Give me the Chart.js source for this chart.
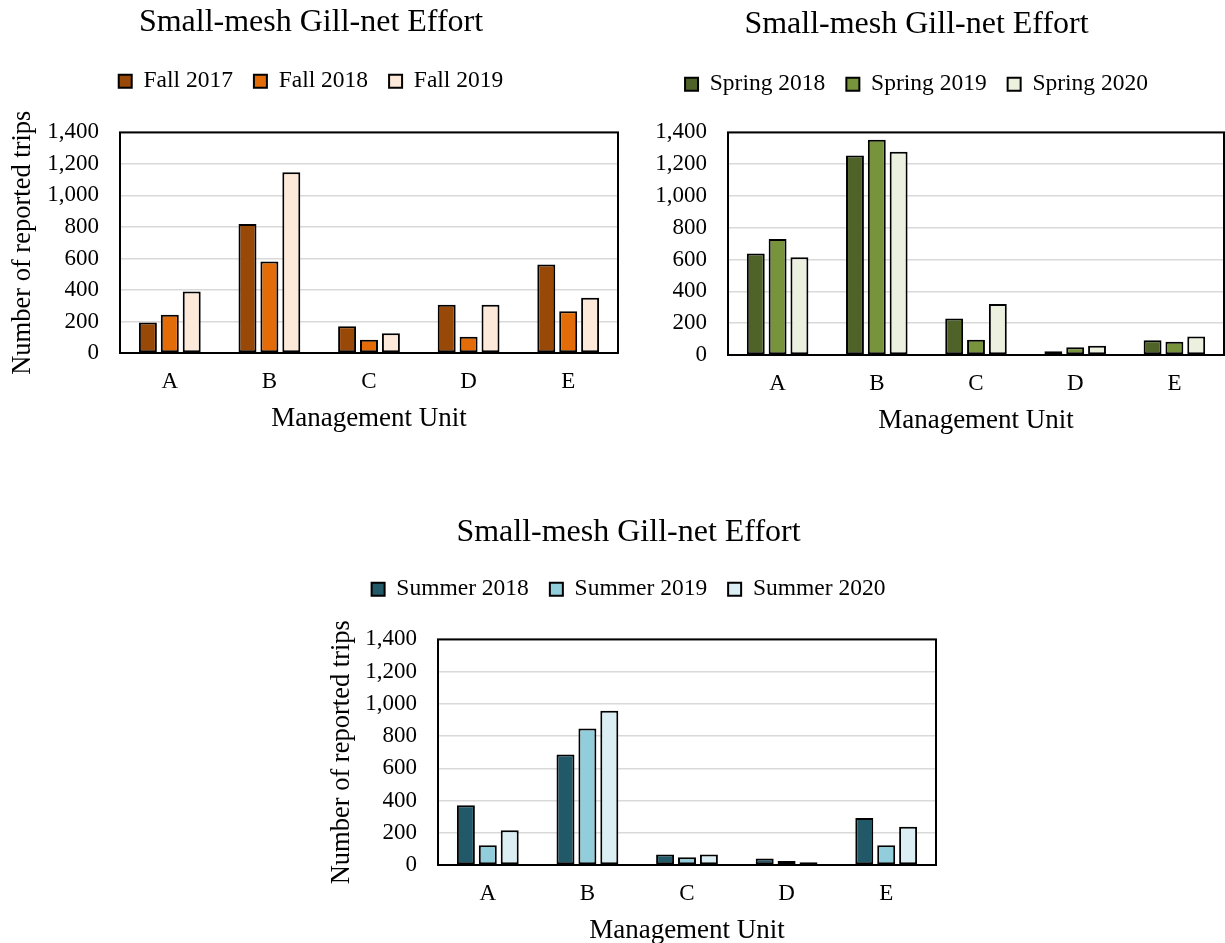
<!DOCTYPE html>
<html>
<head>
<meta charset="utf-8">
<script src="https://cdn.jsdelivr.net/npm/chart.js@4.4.1/dist/chart.umd.min.js"></script>
<style>
  body { margin: 0; background: #fff; width: 1225px; height: 943px; position: relative; overflow: hidden; }
  .box { position: absolute; }
</style>
</head>
<body>
<div class="box" style="left:0;top:0;width:622px;height:439px"><canvas id="fall"></canvas></div>
<div class="box" style="left:608px;top:0;width:617px;height:441px"><canvas id="spring"></canvas></div>
<div class="box" style="left:320px;top:507px;width:617px;height:444px"><canvas id="summer"></canvas></div>
<script>
const units = ['A', 'B', 'C', 'D', 'E'];
const yTicks = [0, 200, 400, 600, 800, 1000, 1200, 1400];

const fall2017 = [193, 818, 169, 306, 561];
const fall2018 = [242, 580, 84, 103, 265];
const fall2019 = [390, 1147, 126, 306, 351];

const spring2018 = [639, 1255, 230, 23, 92];
const spring2019 = [729, 1353, 96, 49, 83];
const spring2020 = [614, 1279, 320, 58, 117];

const summer2018 = [371, 685, 65, 40, 291];
const summer2019 = [122, 847, 48, 25, 122];
const summer2020 = [216, 958, 65, 17, 237];

const serif = '"Liberation Serif", "Times New Roman", serif';
Chart.defaults.font.family = serif;
Chart.defaults.color = '#000';

// black frame round the plot area
const frame = {
    id: 'frame',
    afterDraw(chart) {
        const a = chart.chartArea, ctx = chart.ctx;
        ctx.save();
        ctx.strokeStyle = '#000';
        ctx.lineWidth = 2;
        ctx.strokeRect(a.left, a.top, a.right - a.left, a.bottom - a.top);
        ctx.restore();
    }
};

// fixed legend height so the gap above the plot matches
const legendHeight = {
    id: 'legendHeight',
    beforeInit(chart, args, opts) {
        const fit = chart.legend.fit;
        chart.legend.fit = function () {
            fit.call(this);
            this.height = opts.height;
        };
    }
};

function makeChart(id, names, series, colors, cfg) {
    const ctx = document.getElementById(id).getContext('2d');
    new Chart(ctx, {
        type: 'bar',
        data: {
            labels: units,
            datasets: series.map((s, i) => ({
                label: names[i],
                data: s,
                backgroundColor: colors[i],
                borderColor: '#000',
                borderWidth: 2,
                borderSkipped: false,
                categoryPercentage: 0.66,
                barPercentage: 0.82
            }))
        },
        options: {
            responsive: true,
            maintainAspectRatio: false,
            animation: false,
            layout: { padding: 0 },
            plugins: {
                title: {
                    display: true,
                    text: 'Small-mesh Gill-net Effort',
                    font: { size: 32, weight: 'normal' },
                    padding: { top: cfg.titleTop, bottom: cfg.titleGap }
                },
                legend: {
                    labels: {
                        font: { size: 23.5 },
                        boxWidth: 13,
                        boxHeight: 13,
                        padding: 21,
                        color: '#000'
                    }
                },
                legendHeight: { height: cfg.legendH },
                tooltip: { enabled: false }
            },
            scales: {
                x: {
                    grid: { display: false },
                    border: { display: false },
                    ticks: { font: { size: 23 }, padding: 7 },
                    title: { display: true, text: 'Management Unit', font: { size: 27 }, padding: { top: 0, bottom: 4 } }
                },
                y: {
                    min: 0,
                    max: 1400,
                    afterBuildTicks: axis => { axis.ticks = yTicks.map(v => ({ value: v })); },
                    afterFit: axis => { axis.width = cfg.leftW; },
                    grid: { color: '#d9d9d9', lineWidth: 1.5, drawTicks: false },
                    border: { display: false },
                    ticks: {
                        font: { size: 23 },
                        padding: 21,
                        callback: v => v.toLocaleString('en-US')
                    },
                    title: {
                        display: cfg.yTitle,
                        text: 'Number of reported trips',
                        font: { size: 26.5 },
                        padding: { top: cfg.yTitlePad, bottom: 0 }
                    }
                },
                // empty right-hand axis sets the room right of the plot
                y2: {
                    position: 'right',
                    min: 0,
                    max: 1400,
                    afterFit: axis => { axis.width = cfg.rightW; },
                    grid: { display: false },
                    border: { display: false },
                    ticks: { display: false }
                }
            }
        },
        plugins: [frame, legendHeight]
    });
}

makeChart('fall', ['Fall 2017', 'Fall 2018', 'Fall 2019'],
    [fall2017, fall2018, fall2019], ['#984807', '#E36C09', '#FDE9D9'],
    { yTitle: true, yTitlePad: 7, leftW: 120, rightW: 4, titleTop: 3, titleGap: 7, legendH: 84 });
makeChart('spring', ['Spring 2018', 'Spring 2019', 'Spring 2020'],
    [spring2018, spring2019, spring2020], ['#4F6228', '#77933C', '#EBF1DE'],
    { yTitle: false, yTitlePad: 0, leftW: 120, rightW: 1, titleTop: 5, titleGap: 8, legendH: 81 });
makeChart('summer', ['Summer 2018', 'Summer 2019', 'Summer 2020'],
    [summer2018, summer2019, summer2020], ['#215968', '#92CDDC', '#DAEEF3'],
    { yTitle: true, yTitlePad: 6, leftW: 118, rightW: 1, titleTop: 6, titleGap: 5, legendH: 83 });
</script>
</body>
</html>
